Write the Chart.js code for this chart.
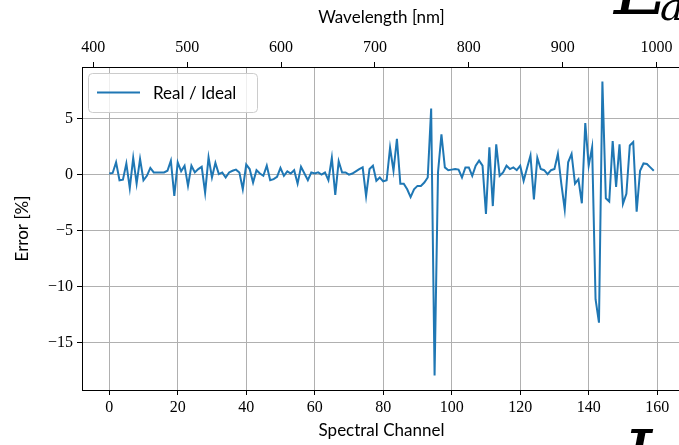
<!DOCTYPE html>
<html>
<head>
<meta charset="utf-8">
<script src="https://cdn.jsdelivr.net/npm/chart.js@4.4.1/dist/chart.umd.min.js"></script>
<style>
  html, body { margin: 0; padding: 0; background: #fff; overflow: hidden; }
  #wrap { position: relative; width: 679px; height: 445px; overflow: hidden; }
  #errChart { position: absolute; left: 0; top: 0; }
  .deco { position: absolute; font-family: "DejaVu Serif", serif; font-style: italic; color: #000; line-height: 1; }
</style>
</head>
<body>
<div id="wrap">
  <canvas id="errChart" width="700" height="445" style="width:700px;height:445px"></canvas>
  <div class="deco" style="left:614px; top:-50px; font-size:76px;">E</div>
  <div class="deco" style="left:660px; top:-14px; font-size:40px;">a</div>
  <div class="deco" style="left:622px; top:421px; font-size:76px;">L</div>
</div>
<script>
// tick labels
const channelTicks = [0, 20, 40, 60, 80, 100, 120, 140, 160];
const wavelengthTicks = [400, 500, 600, 700, 800, 900, 1000];
const errorTicks = [-15, -10, -5, 0, 5];

// Real / Ideal error per spectral channel, in %
const errorPct = [
   0.1,  0.15,  1.1, -0.5, -0.45,  1.0, -1.2,  1.5, -0.8,  1.4,
  -0.5, -0.1,  0.6,  0.2,  0.2,  0.2,  0.2,  0.35,  1.25, -1.9,
   1.1,  0.3,  0.8, -1.0,  0.8,  0.2,  0.5,  0.7, -1.6,  1.55,
  -0.25, 1.05, 0.05, 0.2, -0.25, 0.2,  0.35, 0.45, 0.2, -1.3,
   0.9,  0.5, -0.7,  0.4,  0.1, -0.1,  0.8, -0.5, -0.4, -0.2,
   0.6, -0.1,  0.3,  0.1,  0.4, -0.8,  0.7,  0.1, -0.5,  0.2,
   0.1,  0.2,  0.0,  0.2, -0.5,  1.5, -1.8,  1.2,  0.2,  0.2,
   0.0,  0.1,  0.3,  0.5,  0.65, -1.9, 0.5,  0.8, -0.55, -0.25,
  -0.6, -0.5,  2.4,  0.35, 3.2, -0.8, -0.8, -1.3, -2.0, -1.3,
  -1.0, -1.0, -0.7, -0.25, 5.9, -17.9, 0.2, 3.6,  0.65, 0.4,
   0.45, 0.5,  0.45, -0.25, 0.65, 0.65, -0.1, 0.8, 1.25, 0.8,
  -3.5,  2.45, -2.8, 2.7, -0.1,  0.2,  0.8,  0.5,  0.65, 0.4,
   0.8, -0.55, 0.6,  1.7, -2.2,  1.5,  0.5,  0.4,  0.05, 0.4,
   0.5,  1.85, -0.8, -3.1, 1.1,  1.85, -0.8, -0.4, -2.55, 4.6,
   0.8,  2.45, -11.1, -13.2, 8.3, -2.1, -2.4, 3.0, -1.1, 2.7,
  -2.6, -1.7,  2.6,  2.9, -3.3,  0.35, 1.0,  0.95, 0.65, 0.35
];
const channels = errorPct.map((_, i) => i);

const serif = "'Liberation Serif', 'DejaVu Serif', serif";
const sans = "Lato, 'DejaVu Sans', sans-serif";

// legend drawn inside the axes, matplotlib style
const legendBox = {
    id: 'legendBox',
    afterDatasetsDraw(chart) {
        const ctx = chart.ctx;
        const area = chart.chartArea;
        const ds = chart.data.datasets[0];
        const x = area.left + 6, y = area.top + 6, w = 169, h = 39;
        ctx.save();
        ctx.beginPath();
        ctx.roundRect(x + 0.5, y + 0.5, w, h, 4);
        ctx.fillStyle = 'rgba(255,255,255,0.8)';
        ctx.fill();
        ctx.strokeStyle = '#cccccc';
        ctx.lineWidth = 1;
        ctx.stroke();
        ctx.beginPath();
        ctx.moveTo(x + 9, y + h / 2);
        ctx.lineTo(x + 52, y + h / 2);
        ctx.strokeStyle = ds.borderColor;
        ctx.lineWidth = 2;
        ctx.stroke();
        ctx.fillStyle = '#000';
        ctx.font = '17px ' + sans;
        ctx.textBaseline = 'middle';
        ctx.fillText(ds.label, x + 65, y + h / 2 + 1);
        ctx.restore();
    }
};

function fixedTicks(list) {
    return function(scale) {
        scale.ticks = list.map(v => ({ value: v }));
    };
}

const ctx = document.getElementById('errChart').getContext('2d');
const errChart = new Chart(ctx, {
    type: 'line',
    data: {
        datasets: [{
            label: 'Real / Ideal',
            data: channels.map((c, i) => ({ x: c, y: errorPct[i] })),
            borderColor: '#1f77b4',
            borderWidth: 2,
            pointRadius: 0,
            tension: 0,
            fill: false
        }]
    },
    options: {
        responsive: false,
        animation: false,
        layout: { padding: { left: 0, right: 19, top: 0, bottom: 0 } },
        plugins: {
            legend: { display: false },
            tooltip: { enabled: false }
        },
        scales: {
            x: {
                type: 'linear',
                position: 'bottom',
                min: -7.95,
                max: 166.95,
                afterBuildTicks: fixedTicks(channelTicks),
                afterFit: s => { s.height = 55; },
                grid: { color: '#b0b0b0', lineWidth: 1, tickColor: '#000', tickLength: 5 },
                border: { color: '#000', width: 1 },
                ticks: { color: '#000', font: { family: serif, size: 16 }, padding: 3, maxRotation: 0, autoSkip: false,
                         callback: v => String(v) },
                title: { display: true, text: 'Spectral Channel', color: '#000', font: { family: sans, size: 17 }, padding: { top: 0, bottom: 4 } }
            },
            x2: {
                type: 'linear',
                position: 'top',
                min: 388,
                max: 1026,
                afterBuildTicks: fixedTicks(wavelengthTicks),
                afterFit: s => { s.height = 67; },
                grid: { drawOnChartArea: false, tickColor: '#000', tickLength: 5 },
                border: { color: '#000', width: 1 },
                ticks: { color: '#000', font: { family: serif, size: 16 }, padding: 5, maxRotation: 0, autoSkip: false,
                         callback: v => String(v) },
                title: { display: true, text: 'Wavelength [nm]', color: '#000', font: { family: sans, size: 17 }, padding: { top: 7, bottom: 0 } }
            },
            y: {
                type: 'linear',
                min: -19.2,
                max: 9.6,
                afterBuildTicks: fixedTicks(errorTicks),
                afterFit: s => { s.width = 82; },
                grid: { color: '#b0b0b0', lineWidth: 1, tickColor: '#000', tickLength: 5 },
                border: { color: '#000', width: 1 },
                ticks: {
                    color: '#000',
                    font: { family: serif, size: 16 },
                    padding: 4,
                    callback: v => (v < 0 ? '\u2212' + Math.abs(v) : String(v))
                },
                title: { display: true, text: 'Error [%]', color: '#000', font: { family: sans, size: 17 }, padding: { top: 12, bottom: 0 } }
            }
        }
    },
    plugins: [legendBox]
});
</script>
</body>
</html>
